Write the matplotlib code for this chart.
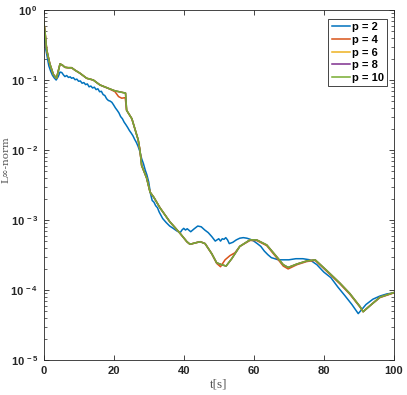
import matplotlib
matplotlib.use("Agg")
import matplotlib.pyplot as plt
from matplotlib.ticker import LogLocator, FixedLocator, FuncFormatter, NullFormatter

# ---- data ----
t_p2 = [0, 0.5, 1, 1.5, 2, 2.5, 3, 3.6, 4.2, 4.7, 5.2, 5.7, 6.1, 6.6, 7.1, 7.6, 8.0, 8.5, 9.0,
        9.5, 10.0, 10.5, 11.0, 11.5, 12.0, 12.5, 13.0, 13.5, 14.0, 14.5, 15.0, 15.5, 16.0,
        16.5, 17.0, 17.5, 18.0, 18.5, 19.0, 19.5, 20.0, 20.5, 21.0, 21.5, 22.0, 22.5, 23.0,
        23.5, 24.0, 24.5, 25.0, 25.5, 26.0, 26.5, 27.0, 27.5, 28.0, 28.5, 29.0, 29.5, 30.0,
        30.5, 31.0, 31.5, 32.0, 32.5, 33.0, 34.0, 35.0, 36.0, 37.0, 38.0, 39.0, 39.5, 40.0,
        40.5, 41.0, 42.0, 43.0, 44.0, 45.0, 46.0, 47.0, 48.0, 49.0, 49.5, 50.0, 50.5, 51.0,
        51.5, 52.0, 52.5, 53.0, 53.5, 54.0, 55.0, 56.0, 57.0, 58.0, 59.0, 60.0, 61.0, 62.0,
        63.0, 64.0, 65.0, 66.0, 67.0, 68.0, 70.0, 72.0, 74.0, 76.0, 78.0, 80.0, 82.0, 84.0,
        86.0, 88.0, 89.8, 91.0, 92.0, 94.0, 96.0, 98.0, 100.0]
v_p2 = [0.55, 0.30, 0.22, 0.16, 0.135, 0.118, 0.108, 0.100, 0.112, 0.130, 0.128, 0.118,
        0.112, 0.116, 0.109, 0.111, 0.106, 0.108, 0.101, 0.103, 0.096, 0.097, 0.090, 0.092,
        0.086, 0.088, 0.080, 0.082, 0.077, 0.079, 0.073, 0.075, 0.068, 0.069, 0.062, 0.060,
        0.054, 0.051, 0.050, 0.048, 0.044, 0.040, 0.037, 0.034, 0.030, 0.028, 0.025, 0.023,
        0.021, 0.019, 0.0175, 0.016, 0.0142, 0.0128, 0.0112, 0.0095, 0.0075, 0.0064,
        0.0052, 0.0044, 0.0035, 0.0024, 0.0019, 0.0018, 0.0016, 0.0015, 0.0013, 0.00105,
        0.00092, 0.00082, 0.00076, 0.00070, 0.00066, 0.00072, 0.00076, 0.00072, 0.00075,
        0.00068, 0.00075, 0.00082, 0.00080, 0.00072, 0.00066, 0.00058, 0.00050, 0.00052,
        0.00054, 0.00050, 0.00054, 0.00053, 0.00056, 0.00052, 0.00046, 0.00047, 0.00048,
        0.00052, 0.00055, 0.00056, 0.00055, 0.00053, 0.00050, 0.00046, 0.00042, 0.00036,
        0.00032, 0.00029, 0.00028, 0.00027, 0.00027, 0.00027, 0.00028, 0.00028, 0.00027,
        0.00023, 0.00018, 0.00015, 0.00011, 8.3e-5, 6.2e-5, 4.6e-5, 5.4e-5, 6.2e-5, 7.4e-5,
        8.2e-5, 8.8e-5, 9.1e-5]

t_p10 = [0, 0.4, 0.9, 1.8, 2.8, 3.7, 4.7, 5.4, 6.1, 7.0, 8.0, 9.0, 10.4, 12.3, 14.2, 16.1,
         18.5, 20.4, 22.8, 23.4, 23.7, 25.2, 27.0, 27.5, 28.0, 29.4, 30.4, 31.5, 33.2, 36.0,
         38.9, 40.9, 41.8, 43.2, 44.7, 46.1, 48.0, 49.4, 50.8, 52.1, 53.7, 56.0, 58.9, 60.8,
         63.7, 66.5, 68.4, 69.8, 72.3, 75.1, 77.5, 80.8, 84.6, 87.4, 90.3, 91.2, 93.2, 96.0,
         100.0]
v_p10 = [0.72, 0.50, 0.27, 0.17, 0.12, 0.106, 0.17, 0.163, 0.152, 0.150, 0.150, 0.138,
         0.125, 0.106, 0.100, 0.085, 0.076, 0.070, 0.066, 0.065, 0.037, 0.028, 0.014, 0.010,
         0.0060, 0.0040, 0.0025, 0.0021, 0.0015, 0.00095, 0.00065, 0.00049, 0.00045,
         0.00047, 0.00049, 0.00046, 0.00033, 0.000245, 0.00023, 0.00022, 0.00028, 0.00042,
         0.00052, 0.00052, 0.00044, 0.00030, 0.00023, 0.00021, 0.000235, 0.00026, 0.00027,
         0.00019, 0.000125, 8.9e-5, 5.8e-5, 4.9e-5, 6.0e-5, 7.9e-5, 9.2e-5]

t_p8 = t_p10
v_p8 = v_p10
t_p6 = t_p10
v_p6 = v_p10

t_p4 = [0, 0.4, 0.9, 1.8, 2.8, 3.7, 4.7, 5.4, 6.1, 7.0, 8.0, 9.0, 10.4, 12.3, 14.2, 16.1,
        18.5, 20.4, 21.4, 22.3, 23.3, 23.7, 25.2, 27.0, 27.5, 28.0, 29.4, 30.4, 31.5, 33.2,
        36.0, 38.9, 40.9, 41.8, 43.2, 44.7, 46.1, 48.0, 49.4, 50.5, 51.8, 53.2, 54.6, 56.0,
        58.9, 60.8, 63.7, 66.5, 68.4, 69.8, 72.3, 75.1, 77.5, 80.8, 84.6, 87.4, 90.3, 91.2,
        93.2, 96.0, 100.0]
v_p4 = [0.72, 0.50, 0.27, 0.17, 0.12, 0.106, 0.17, 0.163, 0.152, 0.150, 0.150, 0.138,
        0.125, 0.106, 0.100, 0.085, 0.076, 0.068, 0.058, 0.055, 0.056, 0.037, 0.028, 0.014,
        0.010, 0.0060, 0.0040, 0.0025, 0.0021, 0.0015, 0.00095, 0.00065, 0.00049, 0.00045,
        0.00047, 0.00049, 0.00046, 0.00033, 0.00024, 0.000215, 0.00027, 0.00031, 0.00034,
        0.00042, 0.00051, 0.00051, 0.00043, 0.00029, 0.00022, 0.000200, 0.00023, 0.000255,
        0.000265, 0.000185, 0.000122, 8.7e-5, 5.7e-5, 4.9e-5, 6.0e-5, 7.8e-5, 9.1e-5]

labels = ["p = 2", "p = 4", "p = 6", "p = 8", "p = 10"]
colors = ["#0072BD", "#D95319", "#EDB120", "#7E2F8E", "#77AC30"]

# ---- figure ----
fig = plt.figure(figsize=(4.07, 3.95), dpi=100)
ax = fig.add_axes([0.107, 0.0886, 0.861, 0.886])

series = [(t_p2, v_p2), (t_p4, v_p4), (t_p6, v_p6), (t_p8, v_p8), (t_p10, v_p10)]
for (tt, vv), lab, col in zip(series, labels, colors):
    ax.plot(tt, vv, color=col, lw=1.1, label=lab)

ax.set_yscale("log")
ax.set_xlim(0, 100)
ax.set_ylim(1e-5, 1)
ax.xaxis.set_major_locator(FixedLocator([0, 20, 40, 60, 80, 100]))
ax.yaxis.set_major_locator(LogLocator(base=10, numticks=10))
ax.yaxis.set_minor_locator(LogLocator(base=10, subs=range(2, 10), numticks=20))
ax.yaxis.set_minor_formatter(NullFormatter())

def yfmt(v, pos):
    import math
    e = int(round(math.log10(v)))
    return r"$\mathregular{10^{\,%d}}$" % e

ax.yaxis.set_major_formatter(FuncFormatter(yfmt))

for lbl in ax.get_xticklabels() + ax.get_yticklabels():
    lbl.set_fontfamily("Liberation Sans")
    lbl.set_fontsize(8)
    lbl.set_fontweight("bold")
    lbl.set_color("#262626")

ax.tick_params(axis="both", which="both", direction="in", top=True, right=True,
               colors="#262626", labelcolor="#262626")
ax.tick_params(axis="both", which="major", length=3.5, width=0.6)
ax.tick_params(axis="both", which="minor", length=2, width=0.5)
ax.tick_params(axis="x", pad=4)
ax.tick_params(axis="y", pad=4)
for side in ["left", "bottom", "top", "right"]:
    ax.spines[side].set_color("#262626")
    ax.spines[side].set_linewidth(0.6)

ax.set_xlabel("t[s]", family=["Liberation Serif", "DejaVu Serif"], fontsize=9.5,
              color="#555555", labelpad=2)
fig.text(6 / 407, 1 - 160 / 395, "L\u221e-norm", family=["DejaVu Serif"], fontsize=7.5,
         color="#555555", rotation=90, ha="center", va="center")

leg = ax.legend(loc="upper right", bbox_to_anchor=(0.99, 0.985), fancybox=False,
                framealpha=1, edgecolor="#262626", handlelength=1.6, handletextpad=0.2,
                borderpad=0.3, labelspacing=0.25, borderaxespad=0.3,
                prop=dict(family="Liberation Sans", size=8, weight="bold"))
leg.get_frame().set_linewidth(0.6)

fig.savefig("out.png", dpi=100)
